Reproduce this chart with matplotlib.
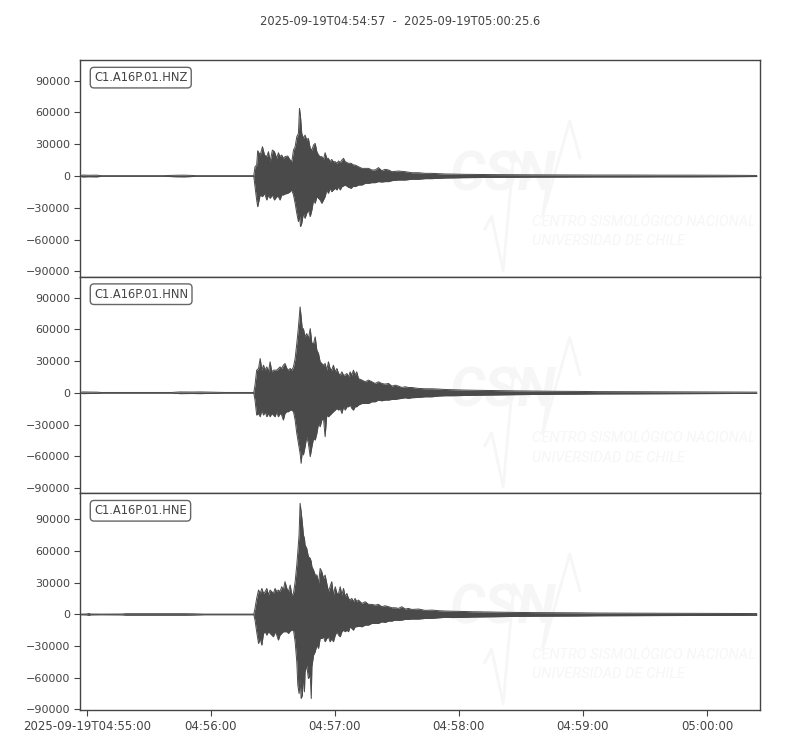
import numpy as np
import matplotlib
matplotlib.use("Agg")
import matplotlib.pyplot as plt

# ---------------- data ----------------
title = "2025-09-19T04:54:57  -  2025-09-19T05:00:25.6"
channels = ["C1.A16P.01.HNZ", "C1.A16P.01.HNN", "C1.A16P.01.HNE"]
duration = 328.6  # seconds after 04:54:57
xtick_sec = [3, 63, 123, 183, 243, 303]
xtick_labels = ["2025-09-19T04:55:00", "04:56:00", "04:57:00",
                "04:58:00", "04:59:00", "05:00:00"]
ytick_vals = [-90000, -60000, -30000, 0, 30000, 60000, 90000]
ylims = [(-95300, 109300), (-95200, 109600), (-90500, 114500)]

# envelope of each trace: time (s after 04:54:57), upper and lower amplitude (counts)
t_hnz = [0, 1, 4, 8, 10, 20, 40, 46, 50, 53, 56, 70, 83.8,
         84.4, 85.2, 85.7, 86.9, 88.0, 89.0, 90.1, 90.9, 91.7, 92.8, 93.8, 94.9,
         95.7, 96.5, 97.3, 98.1, 98.9, 100.2, 101.4, 102.2, 103.0, 103.8, 104.6,
         105.4, 105.9, 106.4, 107.0, 107.8, 108.6, 109.4, 110.2, 111.1, 111.9,
         112.7, 113.5, 114.3, 115.1, 115.9, 116.7, 117.5, 118.3, 119.1, 119.9,
         120.7, 121.5, 122.3, 123.2, 124.0, 124.8, 125.6, 126.4, 127.2, 128.0,
         129.6, 130.9, 132.0, 132.8, 134.4, 136.1, 137.7, 139.3, 140.9, 142.5,
         144.1, 145.7, 147.3, 149.0, 150.6, 153.8, 157.0, 160.2, 163.5, 166.7,
         169.9, 173.2, 176.4,
         180, 185, 190, 200, 210, 220, 235, 250, 265, 280, 295, 310, 320, 327]
up_hnz = [300, 900, 700, 800, 300, 300, 300, 700, 800, 600, 300, 300, 300,
          8800, 10400, 23900, 19800, 27700, 19800, 18300, 23000, 13500, 24500, 23000, 16700,
          22000, 18300, 19800, 16700, 18300, 18900, 15100, 13500, 24500, 27700, 37100,
          40300, 63900, 56000, 40300, 35600, 38700, 34000, 35600, 26100, 24500,
          29300, 30800, 23000, 19800, 18300, 18300, 15700, 22000, 16700, 16700,
          13500, 15700, 13500, 13500, 12000, 14200, 12600, 15100, 16700, 13500,
          12000, 12000, 10400, 10400, 8800, 7200, 7200, 7200, 5700, 5700,
          7900, 5000, 6300, 5700, 4100, 4700, 4100, 3100, 3100, 2500,
          2500, 2200, 1900,
          1800, 1600, 1500, 1300, 1200, 1100, 1000, 900, 900, 800, 800, 700, 600, 500]
lo_hnz = [-300, -900, -700, -800, -300, -300, -300, -700, -800, -600, -300, -300, -300,
          -10100, -22700, -29000, -17900, -19500, -16400, -22700, -17900, -21100, -17900, -22700, -19500,
          -19500, -22700, -17900, -17900, -17000, -16400, -14800, -13200, -17900, -25800, -35200,
          -43100, -36800, -47800, -44700, -35200, -40000, -35200, -32100, -38400, -32100,
          -22700, -25800, -19500, -21100, -22700, -25800, -22700, -19500, -13200, -16400,
          -11600, -14800, -13200, -11600, -13200, -10100, -13200, -10100, -9400, -8500,
          -10700, -11600, -9400, -10100, -8500, -8500, -6900, -6900, -6300, -6300,
          -5300, -5700, -5300, -5300, -4400, -3800, -3800, -3100, -3100, -2500,
          -2500, -2200, -1900,
          -1800, -1600, -1500, -1300, -1200, -1100, -1000, -900, -900, -800, -800, -700, -600, -500]

t_hnn = [0, 1, 4, 8, 10, 20, 44, 48, 54, 58, 70, 83.8,
         84.4, 85.2, 86.1, 86.9, 87.7, 88.5, 89.3, 90.1, 90.9, 91.7, 92.5, 93.3,
         94.1, 94.9, 95.7, 96.5, 97.3, 98.1, 98.9, 99.8, 100.6, 101.4, 102.2, 103.0,
         103.8, 104.6, 105.4, 106.2, 106.7, 107.3, 107.8, 108.6, 109.4, 110.2, 111.1,
         111.9, 112.7, 113.5, 114.3, 115.1, 115.9, 116.7, 117.5, 118.3, 119.1, 119.9,
         120.7, 121.5, 122.3, 123.2, 124.0, 124.8, 125.6, 126.4, 127.2, 128.0, 128.8,
         129.6, 130.4, 131.2, 132.0, 132.8, 133.6, 134.4, 136.1, 137.7, 139.3, 140.9,
         142.5, 144.1, 145.7, 147.3, 149.0, 150.6, 152.2, 153.8, 155.4, 157.0, 158.6,
         160.2, 163.5, 166.7, 169.9, 173.2, 176.4,
         180, 185, 190, 200, 210, 220, 230, 240, 250, 270, 285, 300, 315, 327]
up_hnn = [300, 800, 700, 600, 300, 300, 300, 800, 700, 800, 300, 300,
          7200, 21400, 23000, 32400, 21400, 26100, 21400, 24500, 19800, 29300, 19800, 21400,
          21400, 21400, 23000, 24500, 23000, 26100, 27700, 23000, 21400, 23000, 21400, 24500,
          32400, 46600, 62300, 81200, 71800, 59200, 60700, 52900, 56000, 51300, 60700,
          46600, 46600, 52900, 40300, 37100, 29300, 27700, 26100, 27700, 21400, 29300,
          23000, 21400, 26100, 19800, 23000, 18300, 16700, 19800, 16700, 16700, 18300,
          15100, 19800, 16700, 21400, 16700, 19800, 13500, 12000, 10400, 12000, 10400,
          8800, 10400, 8800, 8200, 8800, 6300, 7200, 6300, 5000, 5700, 5000,
          5000, 4100, 3800, 3800, 3500, 3100,
          2900, 2600, 2400, 2100, 1800, 1600, 1400, 1300, 1100, 1000, 900, 800, 700, 600]
lo_hnn = [-300, -800, -700, -600, -300, -300, -300, -800, -700, -800, -300, -300,
          -6900, -21100, -19500, -22700, -16400, -21100, -17900, -22700, -19500, -22700, -19500, -21100,
          -22700, -17900, -22700, -19500, -21100, -25800, -19500, -17900, -17900, -16400, -16400, -17900,
          -25800, -38400, -47800, -57300, -66700, -54100, -58800, -51000, -41500, -47800, -60400,
          -51000, -43100, -44700, -38400, -29000, -32100, -25800, -24200, -41500, -21100, -22700,
          -21100, -19500, -17900, -16400, -14800, -16400, -14800, -19500, -13200, -16400, -13200,
          -13200, -11600, -14800, -16400, -13200, -13200, -11600, -10100, -10100, -10100, -8500,
          -8500, -6900, -7600, -6900, -6900, -6300, -6300, -5700, -5300, -4700, -5300,
          -4700, -4400, -3800, -3800, -3100, -2800,
          -2800, -2600, -2400, -2100, -1800, -1600, -1400, -1300, -1100, -1000, -900, -800, -700, -600]

t_hne = [0, 3, 4, 5, 10, 20, 22, 30, 40, 50, 54, 60, 70, 83.8,
         84.4, 85.2, 86.1, 86.9, 87.7, 88.5, 89.3, 90.1, 90.9, 91.7, 92.5, 93.3,
         94.1, 94.9, 95.7, 96.5, 97.3, 98.1, 98.9, 99.8, 100.6, 101.4, 102.2, 103.0,
         103.8, 104.6, 105.1, 105.7, 106.2, 106.7, 107.3, 107.8, 108.3, 108.6, 109.4,
         110.2, 111.1, 111.6, 111.9, 112.7, 113.5, 114.3, 115.1, 115.9, 116.7, 117.5,
         118.3, 119.1, 119.9, 120.7, 121.5, 122.3, 123.2, 124.0, 124.8, 125.6, 126.4,
         127.2, 128.0, 128.8, 129.6, 130.4, 131.2, 132.0, 132.8, 133.6, 134.4, 136.1,
         137.7, 139.3, 140.9, 142.5, 144.1, 145.7, 147.3, 149.0, 150.6, 152.2, 153.8,
         155.4, 157.0, 158.6, 160.2, 163.5, 166.7, 169.9, 173.2, 176.4,
         180, 185, 190, 200, 210, 220, 230, 240, 250, 265, 280, 300, 315, 327]
up_hne = [300, 400, 900, 400, 300, 400, 700, 700, 700, 700, 600, 300, 300, 300,
          5700, 15200, 23100, 19900, 24600, 19900, 21500, 24600, 18300, 23100, 21500, 19900,
          24600, 21500, 23100, 21500, 26200, 23100, 31000, 24600, 21500, 27800, 18300, 19900,
          31000, 46800, 59400, 75200, 105200, 97300, 86300, 75200, 72000, 65700, 62600,
          54700, 53100, 49900, 45200, 42000, 37300, 37300, 29400, 43600, 40400, 34100,
          37300, 29400, 21500, 26200, 31000, 18300, 26200, 19900, 19900, 26200, 18300,
          24600, 16700, 19900, 15200, 13600, 15200, 12000, 15200, 12000, 13600, 10400,
          12000, 9500, 9500, 8800, 9500, 7300, 8200, 7300, 6300, 6300, 5700,
          7300, 5100, 5700, 4700, 5100, 3800, 4100, 3500, 3200,
          3000, 2800, 2500, 2200, 1900, 1700, 1600, 1500, 1300, 1200, 1100, 1000, 900, 800]
lo_hne = [-300, -400, -900, -400, -300, -400, -700, -700, -700, -700, -600, -300, -300, -300,
          -5400, -16400, -27500, -22800, -29100, -18000, -16400, -19600, -16400, -18000, -19600, -21200,
          -16400, -19600, -24300, -19600, -18000, -16400, -16400, -16400, -18000, -15800, -14900, -14900,
          -25900, -44900, -67000, -74900, -60700, -79600, -76500, -54400, -73300, -54400, -48000,
          -60700, -57500, -79600, -49600, -38600, -35400, -29100, -32200, -22800, -22800, -21200,
          -25900, -22800, -21200, -25900, -22800, -25900, -19600, -16400, -19600, -21200, -16400,
          -14900, -16400, -14900, -16400, -11700, -13300, -14900, -11700, -11700, -11100, -11700,
          -10100, -10100, -8500, -8500, -8500, -7000, -7600, -6300, -6300, -5400, -5700,
          -5400, -4700, -4700, -4400, -4400, -3800, -3800, -3200, -2800,
          -3000, -2800, -2500, -2200, -1900, -1700, -1600, -1500, -1300, -1200, -1100, -1000, -900, -800]

times = [t_hnz, t_hnn, t_hne]
uppers = [up_hnz, up_hnn, up_hne]
lowers = [lo_hnz, lo_hnn, lo_hne]

# ---------------- style ----------------
wave_color = "#4a4a4a"
text_color = "#444444"
mark_color = "#f6f6f6"

plt.rcParams["font.family"] = ["DejaVu Sans"]
fig, axes = plt.subplots(3, 1, figsize=(8, 7.5), dpi=100, sharex=True)
fig.subplots_adjust(left=0.1006, right=0.95, top=0.9196, bottom=0.0533, hspace=0)

for i, ax in enumerate(axes):
    # faint CSN watermark
    ax.text(0.622, 0.47, "CSN", transform=ax.transAxes, fontsize=40,
            fontweight="bold", style="italic", color=mark_color,
            ha="center", va="center", zorder=0, clip_on=True,
            family=["Roboto", "DejaVu Sans"])
    ax.text(0.665, 0.255, "CENTRO SISMOLÓGICO NACIONAL", transform=ax.transAxes,
            fontsize=10.5, style="italic", color=mark_color, ha="left", va="center",
            zorder=0, clip_on=True, family=["Roboto", "DejaVu Sans"])
    ax.text(0.665, 0.165, "UNIVERSIDAD DE CHILE", transform=ax.transAxes,
            fontsize=10.5, style="italic", color=mark_color, ha="left", va="center",
            zorder=0, clip_on=True, family=["Roboto", "DejaVu Sans"])
    ax.plot([0.595, 0.605, 0.622, 0.638, 0.66], [0.22, 0.28, 0.03, 0.58, 0.45],
            transform=ax.transAxes, color=mark_color, lw=2, zorder=0)
    ax.plot([0.735, 0.72, 0.68, 0.69], [0.55, 0.72, 0.28, 0.48],
            transform=ax.transAxes, color=mark_color, lw=2, zorder=0)

    t = np.asarray(times[i], dtype=float)
    up = np.asarray(uppers[i], dtype=float)
    lo = np.asarray(lowers[i], dtype=float)
    ax.fill_between(t, lo, up, color=wave_color, lw=0, zorder=2)
    ax.plot(t, up, color=wave_color, lw=0.7, zorder=2)
    ax.plot(t, lo, color=wave_color, lw=0.7, zorder=2)

    ax.set_xlim(0, duration)
    ax.set_ylim(*ylims[i])
    ax.set_yticks(ytick_vals)
    ax.set_yticklabels([f"{v:d}".replace("-", "\u2212") for v in ytick_vals])
    ax.tick_params(axis="y", labelsize=8, colors=text_color, length=4)
    ax.tick_params(axis="x", labelsize=8.5, colors=text_color, length=4)
    for sp in ax.spines.values():
        sp.set_color(text_color)
        sp.set_linewidth(1.0)

    ax.text(0.02, 0.95, channels[i], transform=ax.transAxes, fontsize=8.3,
            color=text_color, ha="left", va="top", zorder=5,
            bbox=dict(boxstyle="round,pad=0.33", fc="white", ec="#666666", lw=1))

axes[-1].set_xticks(xtick_sec)
axes[-1].set_xticklabels(xtick_labels)
for ax in axes[:-1]:
    ax.tick_params(axis="x", labelbottom=False, bottom=False)

fig.suptitle(title, fontsize=8.3, color=text_color, y=0.98)

fig.savefig("out.png", dpi=100)
